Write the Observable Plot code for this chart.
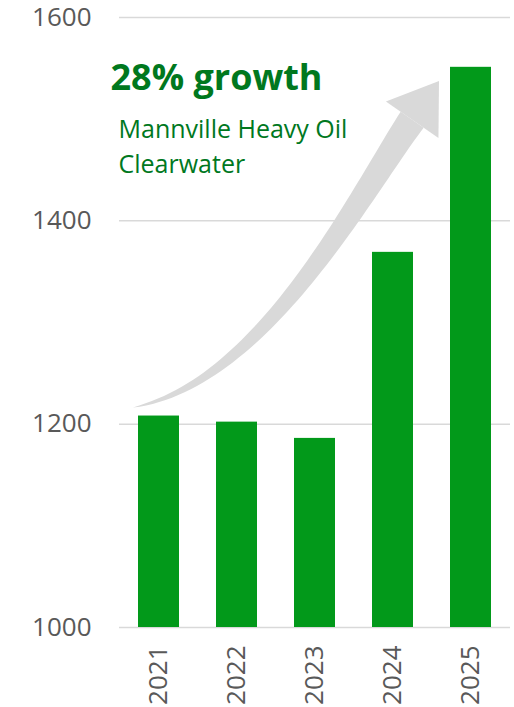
<!DOCTYPE html>
<html>
<head>
<meta charset="utf-8">
<script src="https://cdn.jsdelivr.net/npm/d3@7"></script>
<script src="https://cdn.jsdelivr.net/npm/@observablehq/plot@0.6"></script>
<style>
  html, body { margin: 0; padding: 0; background: #fff; }
  #chart { width: 514px; height: 707px; }
</style>
</head>
<body>
<div id="chart"></div>
<script>
// Data
const years = ["2021", "2022", "2023", "2024", "2025"];
const values = [1208, 1202, 1186, 1369, 1551];
const yTicks = [1000, 1200, 1400, 1600];
const headline = "28% growth";
const subtitle = "Mannville Heavy Oil\nClearwater";
// arrow anchors in data terms
const arrowFrom = {year: "2021", value: 1216};
const arrowTo = {year: "2025", value: 1537};

const data = years.map((year, i) => ({year, value: values[i]}));

const green = "#02991a";
const textGreen = "#00781e";
const grey = "#595959";

function arrowMark(index, scales, values, dimensions) {
  const x = scales.x, y = scales.y;
  const T = [x(arrowFrom.year) - 5, y(arrowFrom.value)];
  const P = [x(arrowTo.year) - 11, y(arrowTo.value)];
  let u = [0.57, -0.82];
  const ul = Math.hypot(u[0], u[1]); u = [u[0] / ul, u[1] / ul];
  const headLen = 47, headHalf = 32, shaftW = 28;
  const H = [P[0] - headLen * u[0], P[1] - headLen * u[1]];
  const C1 = [T[0] + 130, T[1] - 25];
  const C2 = [H[0] - 95 * u[0], H[1] - 95 * u[1]];
  const bez = (t) => {
    const m = 1 - t;
    const a = m * m * m, b = 3 * m * m * t, c = 3 * m * t * t, d = t * t * t;
    return [a * T[0] + b * C1[0] + c * C2[0] + d * H[0], a * T[1] + b * C1[1] + c * C2[1] + d * H[1]];
  };
  const der = (t) => {
    const m = 1 - t;
    return [
      3 * m * m * (C1[0] - T[0]) + 6 * m * t * (C2[0] - C1[0]) + 3 * t * t * (H[0] - C2[0]),
      3 * m * m * (C1[1] - T[1]) + 6 * m * t * (C2[1] - C1[1]) + 3 * t * t * (H[1] - C2[1])
    ];
  };
  const N = 60;
  const left = [], right = [];
  for (let i = 0; i <= N; i++) {
    const t = i / N;
    const p = bez(t), d = der(t);
    const l = Math.hypot(d[0], d[1]);
    const n = [-d[1] / l, d[0] / l];
    const w = shaftW * Math.pow(t, 0.75) / 2;
    left.push([p[0] + n[0] * w, p[1] + n[1] * w]);
    right.push([p[0] - n[0] * w, p[1] - n[1] * w]);
  }
  const nu = [-u[1], u[0]];
  const shaft = left.concat(right.reverse());
  const head = [
    [H[0] + nu[0] * headHalf, H[1] + nu[1] * headHalf],
    P,
    [H[0] - nu[0] * headHalf, H[1] - nu[1] * headHalf]
  ];
  const g = d3.create("svg:g");
  g.append("path").attr("d", "M" + shaft.map(p => p.join(",")).join("L") + "Z").attr("fill", "#d9d9d9");
  g.append("path").attr("d", "M" + head.map(p => p.join(",")).join("L") + "Z").attr("fill", "#d9d9d9");
  return g.node();
}

const chart = Plot.plot({
  width: 514,
  height: 707,
  marginLeft: 119,
  marginRight: 4,
  marginTop: 17,
  marginBottom: 80,
  style: {fontFamily: "'Open Sans', sans-serif", fontSize: "26px", color: grey, background: "#fff", overflow: "visible"},
  x: {domain: years, paddingInner: 0.476, paddingOuter: 0.235, align: 0.5},
  y: {domain: [1000, 1600]},
  marks: [
    arrowMark,
    Plot.ruleY(yTicks, {stroke: "#d9d9d9", strokeWidth: 1.5}),
    Plot.barY(data, {x: "year", y1: 1000, y2: "value", fill: green}),
    Plot.axisY({ticks: yTicks, tickFormat: d => String(d), tickSize: 0, tickPadding: 28, label: null, fill: grey, fontSize: 26}),
    Plot.axisX({tickSize: 0, tickPadding: 18, tickRotate: -90, label: null, fill: grey, fontSize: 26}),
    Plot.text([headline], {
      frameAnchor: "top-left", text: d => d, textAnchor: "start", lineAnchor: "bottom",
      dx: -9, dy: 72, fill: textGreen, fontSize: 36, fontWeight: 700
    }),
    Plot.text([subtitle], {
      frameAnchor: "top-left", text: d => d, textAnchor: "start", lineAnchor: "bottom",
      dx: -1, dy: 155, lineHeight: 1.4, fill: textGreen, fontSize: 25
    })
  ]
});
document.getElementById("chart").appendChild(chart);
</script>
</body>
</html>
